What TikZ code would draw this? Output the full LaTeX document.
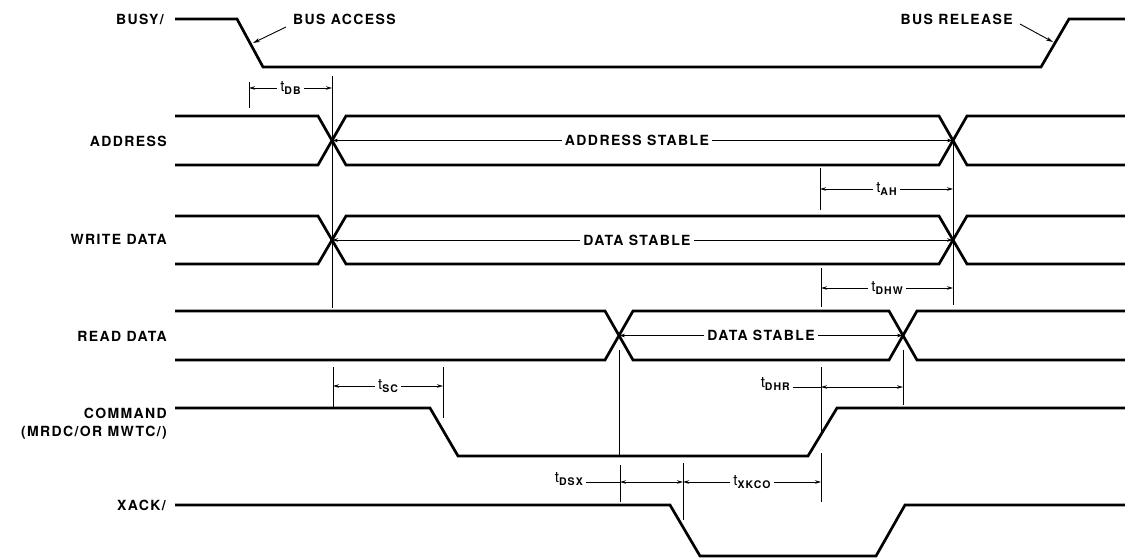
\documentclass[tikz,border=0pt]{standalone}
\usepackage{fontspec}
\setmainfont{TeX Gyre Heros}
\newfontfamily\lblfont[LetterSpace=10]{TeX Gyre Heros}
\usetikzlibrary{arrows.meta}
\newcommand{\tsub}[1]{{\fontsize{15}{16}\selectfont t}\raisebox{-0.55ex}{\lblfont\bfseries\fontsize{10.5}{11}\selectfont #1}}
\tikzset{
  sig/.style={line width=2.7pt},
  guide/.style={line width=0.8pt},
  dimarrow/.style={line width=0.9pt,{Stealth[length=6pt,width=3.5pt]}-{Stealth[length=6pt,width=3.5pt]}},
  lead/.style={line width=0.9pt},
  pointer/.style={line width=0.9pt,-{Stealth[length=7pt,width=4pt]}},
  siglbl/.style={font=\lblfont\bfseries\fontsize{14}{15}\selectfont, anchor=east, inner sep=0pt},
  midlbl/.style={font=\lblfont\bfseries\fontsize{14}{15}\selectfont, fill=white, inner sep=3pt},
  tlbl/.style={fill=white, inner xsep=3pt, inner ysep=1pt}
}
\begin{document}
\begin{tikzpicture}[x=1pt,y=-1pt]
\useasboundingbox (0,0) rectangle (1125,559);
% signal labels
\node[siglbl] (lbusy) at (164,19) {BUSY/};
\node[siglbl] (laddr) at (167,141) {ADDRESS};
\node[siglbl] (lwd) at (167,239) {WRITE DATA};
\node[siglbl] (lrd) at (167,336) {READ DATA};
\node[siglbl] (lcmd) at (167,413) {COMMAND};
\node[siglbl] (lcmd2) at (167,433) {(MRDC/OR MWTC/)};
\node[siglbl] (lxack) at (166,505) {XACK/};
% BUSY
\draw[sig] (175,19) -- (237,19) -- (263,67) -- (1041,67) -- (1069,19) -- (1125,19);
\node[font=\lblfont\bfseries\fontsize{14}{15}\selectfont, anchor=west, inner sep=0pt] (bacc) at (293,19) {BUS ACCESS};
\node[font=\lblfont\bfseries\fontsize{14}{15}\selectfont, anchor=east, inner sep=0pt] (brel) at (1013,19) {BUS RELEASE};
\coordinate (accs) at (286,27);
\coordinate (acct) at (253,43);
\coordinate (rels) at (1020,24);
\coordinate (relt) at (1053,42);
\draw[pointer] (accs) -- (acct);
\draw[pointer] (rels) -- (relt);
% ADDRESS
\draw[sig] (175,116) -- (318,116) -- (346,165) -- (939,165) -- (967,116) -- (1125,116);
\draw[sig] (175,165) -- (318,165) -- (346,116) -- (939,116) -- (967,165) -- (1125,165);
% WRITE DATA
\draw[sig] (175,216) -- (318,216) -- (346,264) -- (939,264) -- (967,216) -- (1125,216);
\draw[sig] (175,264) -- (318,264) -- (346,216) -- (939,216) -- (967,264) -- (1125,264);
% READ DATA
\draw[sig] (175,311) -- (605,311) -- (633,360) -- (889,360) -- (917,311) -- (1125,311);
\draw[sig] (175,360) -- (605,360) -- (633,311) -- (889,311) -- (917,360) -- (1125,360);
% COMMAND
\draw[sig] (175,408) -- (430,408) -- (458,456) -- (808,456) -- (837,408) -- (1125,408);
% XACK
\draw[sig] (175,505) -- (670,505) -- (700,556) -- (876,556) -- (905,505) -- (1125,505);
% crossing points
\coordinate (ax1) at (332,140.5);
\coordinate (ax2) at (953,140.5);
\coordinate (wx1) at (332,240);
\coordinate (wx2) at (953,240);
\coordinate (rx1) at (619,335.5);
\coordinate (rx2) at (903,335.5);
% guide lines
\draw[guide] (249,82) -- (249,108);
\draw[guide] (332,76) -- (332,308);
\draw[guide] (820,168) -- (820,210);
\draw[guide] (953,140) -- (953,305);
\draw[guide] (821,268) -- (821,307);
\draw[guide] (333,367) -- (333,408);
\draw[guide] (443,367) -- (443,418);
\draw[guide] (619,350) -- (619,455);
\draw[guide] (903,350) -- (903,405);
\draw[guide] (821,367) -- (821,432);
\draw[guide] (620,465) -- (620,502);
\draw[guide] (683,463) -- (683,520);
\draw[guide] (821,453) -- (821,502);
% tDB
\coordinate (db1) at (249,88); \coordinate (db2) at (332,88);
\draw[dimarrow] (db1) -- node[tlbl] (tdb) {\tsub{DB}} (db2);
% ADDRESS STABLE
\draw[dimarrow] (ax1) -- node[midlbl, pos=0.491] (astab) {ADDRESS STABLE} (ax2);
% tAH
\coordinate (ah1) at (820,189); \coordinate (ah2) at (953,189);
\draw[dimarrow] (ah1) -- node[tlbl] (tah) {\tsub{AH}} (ah2);
% WRITE DATA STABLE
\draw[dimarrow] (wx1) -- node[midlbl, pos=0.491] (wstab) {DATA STABLE} (wx2);
% tDHW
\coordinate (dhw1) at (821,288); \coordinate (dhw2) at (953,288);
\draw[dimarrow] (dhw1) -- node[tlbl] (tdhw) {\tsub{DHW}} (dhw2);
% READ DATA STABLE
\draw[dimarrow] (rx1) -- node[midlbl] (rstab) {DATA STABLE} (rx2);
% tSC
\coordinate (sc1) at (333,386); \coordinate (sc2) at (443,386);
\draw[dimarrow] (sc1) -- node[tlbl] (tsc) {\tsub{SC}} (sc2);
% tDHR
\coordinate (dhr1) at (821,387); \coordinate (dhr2) at (903,387);
\node[anchor=east, inner sep=1pt] (tdhr) at (791,384) {\tsub{DHR}};
\draw[lead] ([xshift=2pt]tdhr.east |- dhr1) -- (dhr1);
\draw[dimarrow] (dhr1) -- (dhr2);
% tDSX
\coordinate (dsx1) at (620,482); \coordinate (dsx2) at (683,482);
\node[anchor=east, inner sep=1pt] (tdsx) at (584,479) {\tsub{DSX}};
\draw[lead] ([xshift=2pt]tdsx.east |- dsx1) -- (dsx1);
\draw[dimarrow] (dsx1) -- (dsx2);
% tXKCO
\coordinate (xk2) at (821,482);
\draw[dimarrow] (dsx2) -- node[tlbl] (txkco) {\tsub{XKCO}} (xk2);
\end{tikzpicture}
\end{document}
